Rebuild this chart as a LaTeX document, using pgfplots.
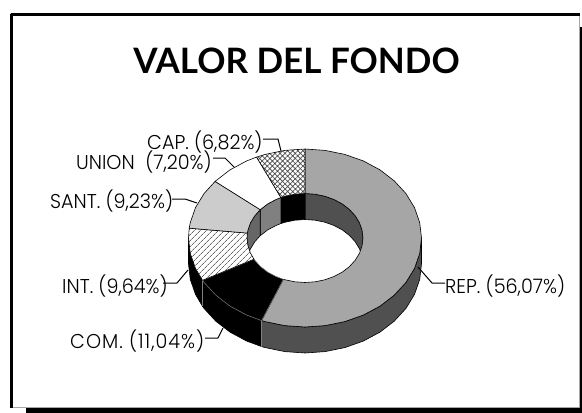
\documentclass[border=0pt]{standalone}
\usepackage{fontspec}
\usepackage{pgfplots}
\pgfplotsset{compat=1.18}
\usetikzlibrary{patterns.meta}
\setmainfont{Poppins}[FakeStretch=0.96, UprightFont=* Light]
\newfontfamily\titlefont{Lato}
\definecolor{wallRep}{HTML}{505050}
\definecolor{topRep}{HTML}{A6A6A6}
\definecolor{topSant}{HTML}{CCCCCC}
\definecolor{wallSant}{HTML}{666666}
\definecolor{wallUnion}{HTML}{808080}
\begin{document}
\begin{tikzpicture}
\begin{axis}[
  scale only axis, width=582pt, height=413pt,
  xmin=0, xmax=582, ymin=0, ymax=413, y dir=reverse,
  hide axis,
  every axis plot/.append style={line join=round, line width=0.6pt},
]
% page, shadow, frame
\addplot[fill=white, draw=none] coordinates {(0,0) (582,0) (582,413) (0,413)};
\addplot[fill=black, draw=none] coordinates {(26,27) (582,27) (582,413) (26,413)};
\addplot[fill=white, draw=none] coordinates {(12,15) (579,15) (579,407) (12,407)};
\addplot[draw=gray!70, line width=1pt] coordinates {(12,407) (579.5,407) (579.5,14)};
\addplot[draw=black, line width=3pt] coordinates {(11.7,407.5) (11.7,14.7) (580,14.7)};

% outer wall
\addplot[fill=wallRep, draw=black] coordinates {(421.5,238) (419.7,253.5) (414.5,268.4) (405.9,282.5) (394.2,295.2) (379.9,306.2) (363.25,315.1) (344.8,321.6) (325.2,325.6) (305,327) (284.8,325.6) (265.2,321.6) (261.65,320.6) (261.65,346.6) (265.2,347.6) (284.8,351.6) (305,353) (325.2,351.6) (344.8,347.6) (363.25,341.1) (379.9,332.2) (394.2,321.2) (405.9,308.5) (414.5,294.4) (419.7,279.5) (421.5,264) (421.5,238)};
\addplot[fill=black, draw=black] coordinates {(261.65,320.6) (246.75,315.1) (230.1,306.2) (215.8,295.2) (204.1,282.5) (202.5,280.3) (202.5,306.3) (204.1,308.5) (215.8,321.2) (230.1,332.2) (246.75,341.1) (261.65,346.6) (261.65,320.6)};
\addplot[fill=black, draw=black] coordinates {(202.5,280.3) (195.5,268.4) (190.3,253.5) (188.5,238) (188.5,264) (190.3,279.5) (195.5,294.4) (202.5,306.3) (202.5,280.3)};
\addplot[draw=gray, line width=0.5pt] coordinates {(202.5,280.3) (202.5,306.3)};
\addplot[draw=gray, line width=0.5pt] coordinates {(261.65,320.6) (261.65,346.6)};

% inner wall
\addplot[fill=wallRep, draw=black] coordinates {(305,193.5) (315.1,194.2) (324.8,196.2) (334,199.5) (342.3,203.9) (349.4,209.4) (355.2,215.75) (359.5,222.8) (362.1,230.3) (363,238) (363,264) (362.1,256.3) (359.5,248.8) (355.2,241.75) (349.4,235.4) (342.3,229.9) (334,225.5) (324.8,222.2) (315.1,220.2) (305,219.5) (305,193.5)};
\addplot[fill=black, draw=black] coordinates {(280.9,197.5) (285.2,196.2) (294.9,194.2) (305,193.5) (305,219.5) (294.9,220.2) (285.2,222.2) (280.9,223.5) (280.9,197.5)};
\addplot[fill=wallUnion, draw=black] coordinates {(260.25,209.7) (260.6,209.4) (267.7,203.9) (276,199.5) (280.9,197.5) (280.9,223.5) (276,225.5) (267.7,229.9) (260.6,235.4) (260.25,235.7) (260.25,209.7)};
\addplot[fill=wallSant, draw=black] coordinates {(249.5,251) (247.9,245.7) (247,238) (247.35,233.1) (247.9,230.3) (250.5,222.8) (254.8,215.75) (260.25,209.7) (260.25,235.7) (254.8,241.75) (250.5,248.8) (249.5,251)};

% top face: REP
\addplot[fill=topRep, draw=black] coordinates {(305,149) (325.2,150.4) (344.8,154.4) (363.25,160.9) (379.9,169.8) (394.2,180.8) (405.9,193.5) (414.5,207.6) (419.7,222.5) (421.5,238) (419.7,253.5) (414.5,268.4) (405.9,282.5) (394.2,295.2) (379.9,306.2) (363.25,315.1) (344.8,321.6) (325.2,325.6) (305,327) (284.8,325.6) (265.2,321.6) (261.65,320.6)
 (283.4,279.3) (285.2,279.8) (294.9,281.8) (305,282.5) (315.1,281.8) (324.8,279.8) (334,276.5) (342.3,272.1) (349.4,266.6) (355.2,260.25) (359.5,253.2) (362.1,245.7) (363,238) (362.1,230.3) (359.5,222.8) (355.2,215.75) (349.4,209.4) (342.3,203.9) (334,199.5) (324.8,196.2) (315.1,194.2) (305,193.5) (305,149)};
% COM
\addplot[fill=black, draw=gray, line width=0.5pt] coordinates {(261.65,320.6) (246.75,315.1) (230.1,306.2) (215.8,295.2) (204.1,282.5) (202.5,280.3)
 (254,259.2) (254.8,260.25) (260.6,266.6) (267.7,272.1) (276,276.5) (283.4,279.3) (261.65,320.6)};
% INT
\addplot[fill=white, draw=none] coordinates {(202.5,280.3) (195.5,268.4) (190.3,253.5) (188.5,238) (189.2,228.2)
 (247.35,233.1) (247,238) (247.9,245.7) (250.5,253.2) (254,259.2) (202.5,280.3)};
\addplot[pattern={Lines[angle=45,distance=4pt,line width=0.7pt]}, pattern color=black!60, draw=black] coordinates {(202.5,280.3) (195.5,268.4) (190.3,253.5) (188.5,238) (189.2,228.2)
 (247.35,233.1) (247,238) (247.9,245.7) (250.5,253.2) (254,259.2) (202.5,280.3)};
% SANT
\addplot[fill=topSant, draw=black] coordinates {(189.2,228.2) (190.3,222.5) (195.5,207.6) (204.1,193.5) (215.1,181.4)
 (260.25,209.7) (254.8,215.75) (250.5,222.8) (247.9,230.3) (247.35,233.1) (189.2,228.2)};
% UNION
\addplot[fill=white, draw=black] coordinates {(215.1,181.4) (215.8,180.8) (230.1,169.8) (246.75,160.9) (256.6,157.1)
 (280.9,197.5) (276,199.5) (267.7,203.9) (260.6,209.4) (260.25,209.7) (215.1,181.4)};
% CAP
\addplot[fill=white, draw=none] coordinates {(256.6,157.1) (265.2,154.4) (284.8,150.4) (305,149) (305,193.5) (294.9,194.2) (285.2,196.2) (280.9,197.5) (256.6,157.1)};
\addplot[pattern={Hatch[angle=45,distance=3.6pt,line width=0.7pt]}, pattern color=black!70, draw=black] coordinates {(256.6,157.1) (265.2,154.4) (284.8,150.4) (305,149) (305,193.5) (294.9,194.2) (285.2,196.2) (280.9,197.5) (256.6,157.1)};

% leaders
\addplot[draw=black, line width=1pt] coordinates {(263,139) (278,139) (281,151)};
\addplot[draw=black, line width=1pt] coordinates {(213,158) (225,158) (234,167)};
\addplot[draw=black, line width=1pt] coordinates {(172,199) (185,199) (197,203)};
\addplot[draw=black, line width=1pt] coordinates {(163,283) (177,283) (188,270)};
\addplot[draw=black, line width=1pt] coordinates {(205,338) (218,338) (223,328)};
\addplot[draw=black, line width=1pt] coordinates {(445,283) (432,283) (418,267)};

\node[anchor=base, inner sep=0pt, font=\titlefont\bfseries\fontsize{35}{38}\selectfont] at (axis cs:296.5,73) {VALOR DEL FONDO};
\tikzset{lab/.style={anchor=base west, inner sep=0pt, font=\fontsize{20}{22}\selectfont}}
\node[lab] at (axis cs:147,149) {CAP. (6,82\%)};
\node[lab] at (axis cs:76,169) {UNION\ \ (7,20\%)};
\node[lab] at (axis cs:50,208) {SANT. (9,23\%)};
\node[lab] at (axis cs:62,293) {INT. (9,64\%)};
\node[lab] at (axis cs:70,348) {\addfontfeature{LetterSpace=5}COM. (11,04\%)};
\node[lab] at (axis cs:445,293) {REP. (56,07\%)};
\end{axis}
\end{tikzpicture}
\end{document}
